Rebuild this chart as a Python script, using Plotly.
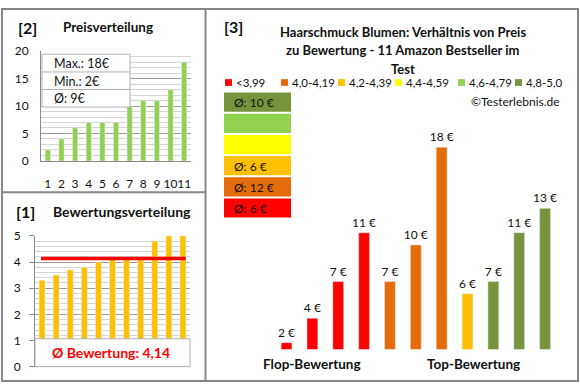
import plotly.graph_objects as go

# ---------------- data ----------------
positions = list(range(1, 12))
position_labels = [str(i) for i in positions]
prices_sorted = [2, 4, 6, 7, 7, 7, 10, 11, 11, 13, 18]
ratings_sorted = [3.3, 3.5, 3.7, 3.8, 4.0, 4.1, 4.1, 4.2, 4.8, 5.0, 5.0]
# products ordered from flop to top rating
product_ratings = [3.3, 3.5, 3.7, 3.8, 4.0, 4.1, 4.1, 4.2, 4.8, 5.0, 5.0]
product_prices = [2, 4, 7, 11, 7, 10, 18, 6, 7, 11, 13]

band_labels = ["<3,99", "4,0-4,19", "4,2-4,39", "4,4-4,59", "4,6-4,79", "4,8-5,0"]
band_lower = [0.0, 4.0, 4.2, 4.4, 4.6, 4.8]
band_colors = ["#FF0000", "#E46C0A", "#FFC000", "#FFFF00", "#92D050", "#77933C"]

title_lines = ["Haarschmuck Blumen: Verhältnis von Preis",
               "zu Bewertung - 11 Amazon Bestseller im",
               "Test"]

# ---------------- helpers ----------------
W, H = 580, 390
FONT = "Lato"
DARK = "#111111"


def px(x):
    return x / W


def py(y):
    return 1 - y / H


def band_of(r):
    idx = 0
    for i, lo in enumerate(band_lower):
        if r >= lo - 1e-9:
            idx = i
    return idx


bar_colors = [band_colors[band_of(r)] for r in product_ratings]
band_avgs = []
for b in range(len(band_labels)):
    vals = [p for p, r in zip(product_prices, product_ratings) if band_of(r) == b]
    band_avgs.append(round(sum(vals) / len(vals)) if vals else None)

avg_price = round(sum(prices_sorted) / len(prices_sorted))
avg_rating = sum(ratings_sorted) / len(ratings_sorted)

fig = go.Figure()

fig.add_trace(go.Bar(x=positions, y=prices_sorted, xaxis="x", yaxis="y",
                     marker_color="#92D050", width=0.38, hoverinfo="skip"))
fig.add_trace(go.Bar(x=positions, y=ratings_sorted, xaxis="x2", yaxis="y2",
                     marker_color="#FFC000", width=0.42, hoverinfo="skip"))
fig.add_trace(go.Bar(x=positions, y=product_prices, xaxis="x3", yaxis="y3",
                     marker_color=bar_colors, width=0.42,
                     texttemplate="%{y} €", textposition="outside",
                     textfont=dict(family=FONT, size=12, color=DARK),
                     cliponaxis=False, constraintext="none", hoverinfo="skip"))

MAJ = "#9c9c9c"
MIN = "#d4d4d4"
AX = "#8a8a8a"

layout = dict(
    width=W, height=H, margin=dict(l=0, r=0, t=0, b=0),
    paper_bgcolor="white", plot_bgcolor="white", showlegend=False,
    font=dict(family=FONT, color=DARK),
    xaxis=dict(domain=[px(41), px(191)], range=[0.5, 11.5], anchor="y",
               tickvals=positions, ticktext=position_labels, showgrid=False,
               showline=True, linecolor=AX, ticks="", zeroline=False,
               tickangle=0, ticklabelstandoff=12, tickfont=dict(size=12, color=DARK)),
    yaxis=dict(domain=[py(159), py(45)], range=[0, 20], anchor="x",
               tick0=0, dtick=5, gridcolor=MAJ, showline=True, linecolor=AX,
               zeroline=False, ticks="", ticklabelstandoff=9,
               minor=dict(dtick=1, tick0=0, showgrid=True, gridcolor=MIN),
               tickfont=dict(size=12, color=DARK)),
    xaxis2=dict(domain=[px(35), px(190)], range=[0.5, 11.5], anchor="y2",
                showticklabels=False, showgrid=False, showline=False,
                zeroline=False, ticks=""),
    yaxis2=dict(domain=[py(373), py(237)], range=[0, 5], anchor="x2",
                tick0=0, dtick=1, gridcolor=MAJ, showline=True, linecolor=AX,
                zeroline=False, ticks="outside", ticklen=5, tickcolor=AX,
                ticklabelstandoff=6,
                minor=dict(dtick=0.2, tick0=0, showgrid=True, gridcolor=MIN),
                tickfont=dict(size=12, color=DARK)),
    xaxis3=dict(domain=[px(273.6), px(558)], range=[0.5, 11.5], anchor="y3",
                visible=False),
    yaxis3=dict(domain=[py(355), py(119.4)], range=[1.45, 20], anchor="x3",
                visible=False),
)
fig.update_layout(**layout)

shapes = []
BORDER = "#878787"
# panel borders
shapes.append(dict(type="rect", xref="paper", yref="paper", x0=px(2), x1=px(578),
                   y0=py(388), y1=py(1), line=dict(color=BORDER, width=2)))
shapes.append(dict(type="line", xref="paper", yref="paper", x0=px(205.5), x1=px(205.5),
                   y0=py(388), y1=py(1), line=dict(color=BORDER, width=2)))
shapes.append(dict(type="line", xref="paper", yref="paper", x0=px(2), x1=px(205.5),
                   y0=py(191.5), y1=py(191.5), line=dict(color=BORDER, width=2)))
# stats box (price panel)
BOXL = "#b0b0b0"
shapes.append(dict(type="rect", xref="paper", yref="paper", x0=px(42), x1=px(130),
                   y0=py(103), y1=py(48), fillcolor="white", line=dict(color=BOXL, width=1)))
for yy in (66.5, 84.7):
    shapes.append(dict(type="line", xref="paper", yref="paper", x0=px(42), x1=px(130),
                       y0=py(yy), y1=py(yy), line=dict(color=BOXL, width=1)))
# rating avg box
shapes.append(dict(type="rect", xref="paper", yref="paper", x0=px(35), x1=px(190),
                   y0=py(373), y1=py(344), fillcolor="white", line=dict(color=BOXL, width=1)))
# average rating line
shapes.append(dict(type="line", xref="x2", yref="y2", x0=0.93, x1=11.2,
                   y0=avg_rating, y1=avg_rating, line=dict(color="#FF0000", width=3.5)))

annotations = []


def ann(text, x, y, size=12, bold=False, color=DARK, xanchor="center"):
    t = f"<b>{text}</b>" if bold else text
    annotations.append(dict(text=t, x=px(x), y=py(y), xref="paper", yref="paper",
                            showarrow=False, xanchor=xanchor, yanchor="middle",
                            font=dict(family=FONT, size=size, color=color)))


# colour boxes with group averages (top: best band)
for k in range(len(band_labels)):
    b = len(band_labels) - 1 - k
    y0 = 88 + k * 22
    shapes.append(dict(type="rect", xref="paper", yref="paper", x0=px(224), x1=px(291),
                       y0=py(y0 + 20), y1=py(y0), fillcolor=band_colors[b],
                       line=dict(width=0)))
    if band_avgs[b] is not None:
        ann(f"Ø: {band_avgs[b]} €", 232, y0 + 10.5, size=12, xanchor="left")

# legend
leg_sq_x = [225, 281, 338, 395, 458, 515]
for i, lab in enumerate(band_labels):
    x0 = leg_sq_x[i]
    shapes.append(dict(type="rect", xref="paper", yref="paper", x0=px(x0), x1=px(x0 + 7),
                       y0=py(81), y1=py(74), fillcolor=band_colors[i], line=dict(width=0)))
    ann(lab.replace("<", "&lt;"), x0 + 9, 77.5, size=11.5, xanchor="left")

fig.update_layout(shapes=shapes)

# titles
ann("[2]", 27, 20, size=16, bold=True)
ann("Preisverteilung", 108, 20, size=13.5, bold=True)
ann("[1]", 25, 212, size=16, bold=True)
ann("Bewertungsverteilung", 121.5, 212, size=14, bold=True)
ann("[3]", 233, 19, size=16, bold=True)
for i, line in enumerate(title_lines):
    ann(line, 402.5, 25 + i * 19, size=13, bold=True)

# stats
ann(f"Max.: {max(prices_sorted)}€", 52, 58, size=12.5, xanchor="left")
ann(f"Min.: {min(prices_sorted)}€", 52, 76.5, size=12.5, xanchor="left")
ann(f"Ø: {avg_price}€", 52, 94.5, size=12.5, xanchor="left")

ann("Ø Bewertung: " + f"{avg_rating:.2f}".replace(".", ","), 111, 358.5, size=14,
    bold=True, color="#FF0000")

ann("©Testerlebnis.de", 562, 97, size=12, xanchor="right")
ann("Flop-Bewertung", 311.7, 370, size=13.5, bold=True)
ann("Top-Bewertung", 473.8, 370, size=13.5, bold=True)

fig.update_layout(annotations=annotations)

fig.write_html("out.html", config={"displayModeBar": False},
               post_script="document.body.style.margin='0';document.body.style.padding='0';")
